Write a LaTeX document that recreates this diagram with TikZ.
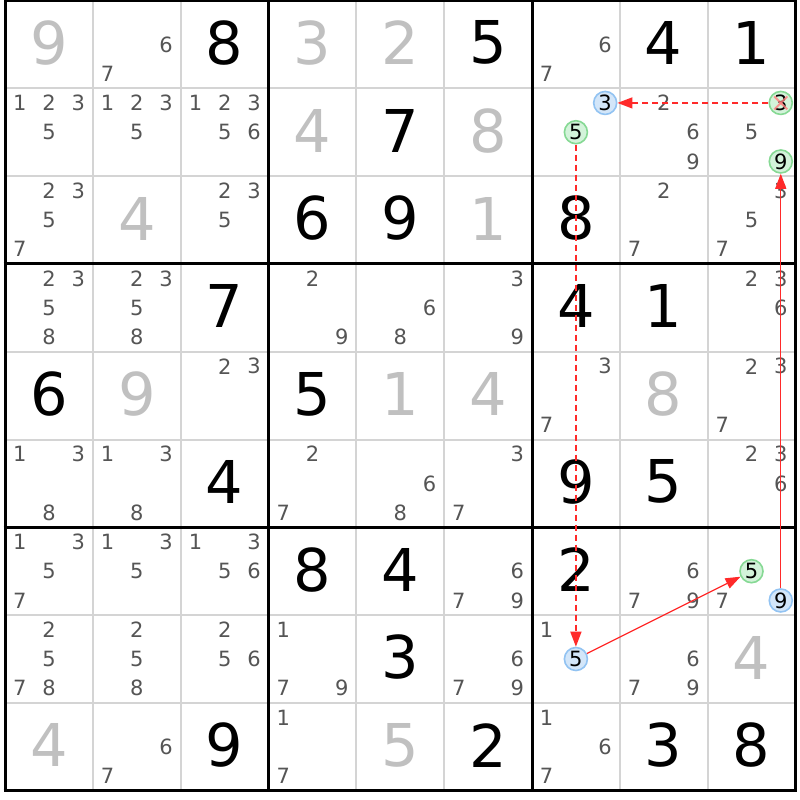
\documentclass[tikz,border=0pt]{standalone}
\usepackage{fontspec}
\setmainfont{DejaVu Sans}
\usetikzlibrary{arrows.meta}
\definecolor{thingrid}{HTML}{D4D4D4}
\definecolor{candcol}{HTML}{555555}
\definecolor{solvcol}{HTML}{C0C0C0}
\definecolor{bluefill}{HTML}{D3E6F9}
\definecolor{blueline}{HTML}{92C3F2}
\definecolor{greenfill}{HTML}{D3F3DA}
\definecolor{greenline}{HTML}{86D994}
\definecolor{arrowred}{HTML}{FF2A2A}
\definecolor{xred}{HTML}{FF7F7F}
\tikzset{
  bigdig/.style={inner sep=0pt, font=\fontsize{59}{60}\selectfont},
  givendig/.style={bigdig, text=black},
  solveddig/.style={bigdig, text=solvcol},
  candnum/.style={inner sep=0pt, font=\fontsize{21}{22}\selectfont, text=candcol},
  bluecand/.style={circle, draw=blueline, fill=bluefill, line width=1.6pt, minimum size=23pt, inner sep=0pt, font=\fontsize{21}{22}\selectfont, text=black},
  greencand/.style={circle, draw=greenline, fill=greenfill, line width=1.6pt, minimum size=23pt, inner sep=0pt, font=\fontsize{21}{22}\selectfont, text=black},
  chaindash/.style={draw=arrowred, line width=1.5pt, dash pattern=on 6pt off 4pt, -{Triangle[length=15pt,width=11pt]}},
  chainsolid/.style={draw=arrowred, line width=1.2pt, -{Triangle[length=15pt,width=11pt]}},
  xmark/.style={draw=xred, line width=2pt, opacity=0.8},
  thinline/.style={draw=thingrid, line width=2pt},
  thickline/.style={draw=black, line width=3pt}
}
\newcommand\given[3]{\node[givendig] (g#1#2) at ({5.2+87.8*(#2+0.5)},{0.5+87.8*(#1+0.5)-1.5}) {#3};}
\newcommand\solved[3]{\node[solveddig] (s#1#2) at ({5.2+87.8*(#2+0.5)},{0.5+87.8*(#1+0.5)-1.5}) {#3};}
\newcommand\cands[3]{\foreach \d in {#3}{%
  \pgfmathtruncatemacro\cc{mod(\d-1,3)}\pgfmathtruncatemacro\rr{(\d-1)/3}%
  \node[candnum] (k#1#2\d) at ({5.2+87.8*#2+14.633*(2*\cc+1)},{0.5+87.8*#1+14.633*(2*\rr+1)}) {\d};}}
\newcommand\circand[4]{%
  \pgfmathtruncatemacro\cc{mod(#3-1,3)}\pgfmathtruncatemacro\rr{(#3-1)/3}%
  \node[#4] (h#1#2#3) at ({5.2+87.8*#2+14.633*(2*\cc+1)},{0.5+87.8*#1+14.633*(2*\rr+1)}) {#3};}
\begin{document}
\begin{tikzpicture}[x=1pt,y=-1pt]
\useasboundingbox (0,0) rectangle (800,800);
\fill[white] (0,0) rectangle (800,800);
% grid
\foreach \i in {1,2,4,5,7,8}{
  \draw[thinline] ({5.2+87.8*\i},0.5) -- ({5.2+87.8*\i},790.7);
  \draw[thinline] (5.2,{0.5+87.8*\i}) -- (795.4,{0.5+87.8*\i});
}
\foreach \i in {0,3,6,9}{
  \draw[thickline] ({5.2+87.8*\i},-1) -- ({5.2+87.8*\i},792.2);
  \draw[thickline] (3.7,{0.5+87.8*\i}) -- (796.9,{0.5+87.8*\i});
}
% row 0
\solved{0}{0}{9} \cands{0}{1}{6,7} \given{0}{2}{8} \solved{0}{3}{3} \solved{0}{4}{2}
\given{0}{5}{5} \cands{0}{6}{6,7} \given{0}{7}{4} \given{0}{8}{1}
% row 1
\cands{1}{0}{1,2,3,5} \cands{1}{1}{1,2,3,5} \cands{1}{2}{1,2,3,5,6} \solved{1}{3}{4}
\given{1}{4}{7} \solved{1}{5}{8} \cands{1}{7}{2,6,9} \cands{1}{8}{5}
% row 2
\cands{2}{0}{2,3,5,7} \solved{2}{1}{4} \cands{2}{2}{2,3,5} \given{2}{3}{6} \given{2}{4}{9}
\solved{2}{5}{1} \given{2}{6}{8} \cands{2}{7}{2,7} \cands{2}{8}{3,5,7}
% row 3
\cands{3}{0}{2,3,5,8} \cands{3}{1}{2,3,5,8} \given{3}{2}{7} \cands{3}{3}{2,9} \cands{3}{4}{6,8}
\cands{3}{5}{3,9} \given{3}{6}{4} \given{3}{7}{1} \cands{3}{8}{2,3,6}
% row 4
\given{4}{0}{6} \solved{4}{1}{9} \cands{4}{2}{2,3} \given{4}{3}{5} \solved{4}{4}{1}
\solved{4}{5}{4} \cands{4}{6}{3,7} \solved{4}{7}{8} \cands{4}{8}{2,3,7}
% row 5
\cands{5}{0}{1,3,8} \cands{5}{1}{1,3,8} \given{5}{2}{4} \cands{5}{3}{2,7} \cands{5}{4}{6,8}
\cands{5}{5}{3,7} \given{5}{6}{9} \given{5}{7}{5} \cands{5}{8}{2,3,6}
% row 6
\cands{6}{0}{1,3,5,7} \cands{6}{1}{1,3,5} \cands{6}{2}{1,3,5,6} \given{6}{3}{8} \given{6}{4}{4}
\cands{6}{5}{6,7,9} \given{6}{6}{2} \cands{6}{7}{6,7,9} \cands{6}{8}{7}
% row 7
\cands{7}{0}{2,5,7,8} \cands{7}{1}{2,5,8} \cands{7}{2}{2,5,6} \cands{7}{3}{1,7,9} \given{7}{4}{3}
\cands{7}{5}{6,7,9} \cands{7}{6}{1} \cands{7}{7}{6,7,9} \solved{7}{8}{4}
% row 8
\solved{8}{0}{4} \cands{8}{1}{6,7} \given{8}{2}{9} \cands{8}{3}{1,7} \solved{8}{4}{5}
\given{8}{5}{2} \cands{8}{6}{1,6,7} \given{8}{7}{3} \given{8}{8}{8}
% highlighted candidates
\circand{1}{6}{3}{bluecand}
\circand{1}{6}{5}{greencand}
\circand{1}{8}{3}{greencand}
\circand{1}{8}{9}{greencand}
\circand{6}{8}{5}{greencand}
\circand{6}{8}{9}{bluecand}
\circand{7}{6}{5}{bluecand}
\draw[xmark] ([shift={(-6.5,-6.5)}]h183.center) -- ([shift={(6.5,6.5)}]h183.center);
\draw[xmark] ([shift={(-6.5,6.5)}]h183.center) -- ([shift={(6.5,-6.5)}]h183.center);
% chain
\draw[chaindash] (h183) -- (h163);
\draw[chaindash] (h165) -- (h765);
\draw[chainsolid] (h765) -- (h685);
\draw[chainsolid] (h689) -- (h189);
\end{tikzpicture}
\end{document}
